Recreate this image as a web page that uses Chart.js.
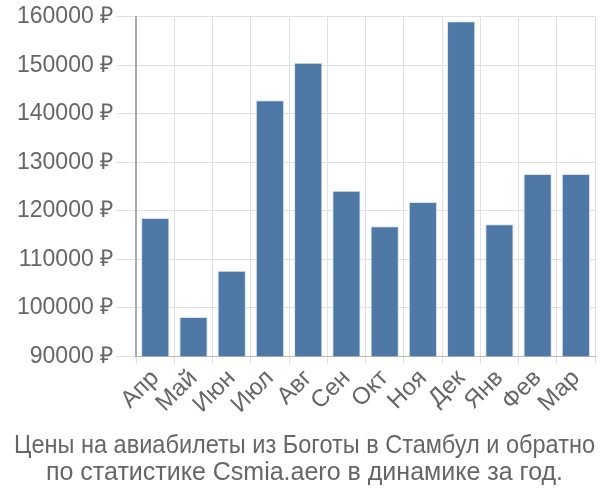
<!DOCTYPE html>
<html>
<head>
<meta charset="utf-8">
<script src="https://cdn.jsdelivr.net/npm/chart.js@4"></script>
<style>
  html, body { margin: 0; padding: 0; background: #fff; }
  #wrap { width: 600px; height: 500px; }
</style>
</head>
<body>
<div id="wrap"><canvas id="chart"></canvas></div>
<script>
// Месяцы и цены (руб.)
const months = ["Апр", "Май", "Июн", "Июл", "Авг", "Сен", "Окт", "Ноя", "Дек", "Янв", "Фев", "Мар"];
const prices = [118500, 98100, 107600, 142800, 150500, 124100, 116800, 121800, 159100, 117200, 127600, 127600];
const titleLines = ["Цены на авиабилеты из Боготы в Стамбул и обратно", "по статистике Csmia.aero в динамике за год."];

Chart.defaults.font.family = "'Liberation Sans', Arial, sans-serif";
Chart.defaults.font.size = 22;
Chart.defaults.color = "#666";

new Chart(document.getElementById("chart"), {
    type: "bar",
    data: {
        labels: months,
        datasets: [{
            data: prices,
            backgroundColor: "#4e79a7",
            borderColor: "#dbe4ee",
            borderWidth: 1,
            barPercentage: 0.74,
            categoryPercentage: 1
        }]
    },
    options: {
        responsive: true,
        maintainAspectRatio: false,
        animation: false,
        layout: { padding: { left: 14, right: 5, top: 0, bottom: 9 } },
        plugins: {
            legend: { display: false },
            tooltip: { enabled: false },
            title: {
                display: true,
                position: "bottom",
                text: titleLines,
                color: "#666",
                font: { size: 25, weight: "normal", lineHeight: 1.08 },
                padding: { top: 14, bottom: 4 }
            }
        },
        scales: {
            x: {
                grid: { color: "#e0e0e0", lineWidth: 1, tickLength: 8, offset: true },
                border: { color: "#bbb" },
                ticks: { maxRotation: 45, minRotation: 45, autoSkip: false, padding: 0, color: "#666", font: { size: 24 } }
            },
            y: {
                min: 90000,
                max: 160000,
                grid: { color: "#e0e0e0", lineWidth: 1, tickLength: 20 },
                border: { color: "#aaa", width: 2 },
                ticks: {
                    stepSize: 10000,
                    padding: 3,
                    color: "#666",
                    font: { size: 23 },
                    callback: v => v + " ₽"
                }
            }
        }
    }
});
</script>
</body>
</html>
